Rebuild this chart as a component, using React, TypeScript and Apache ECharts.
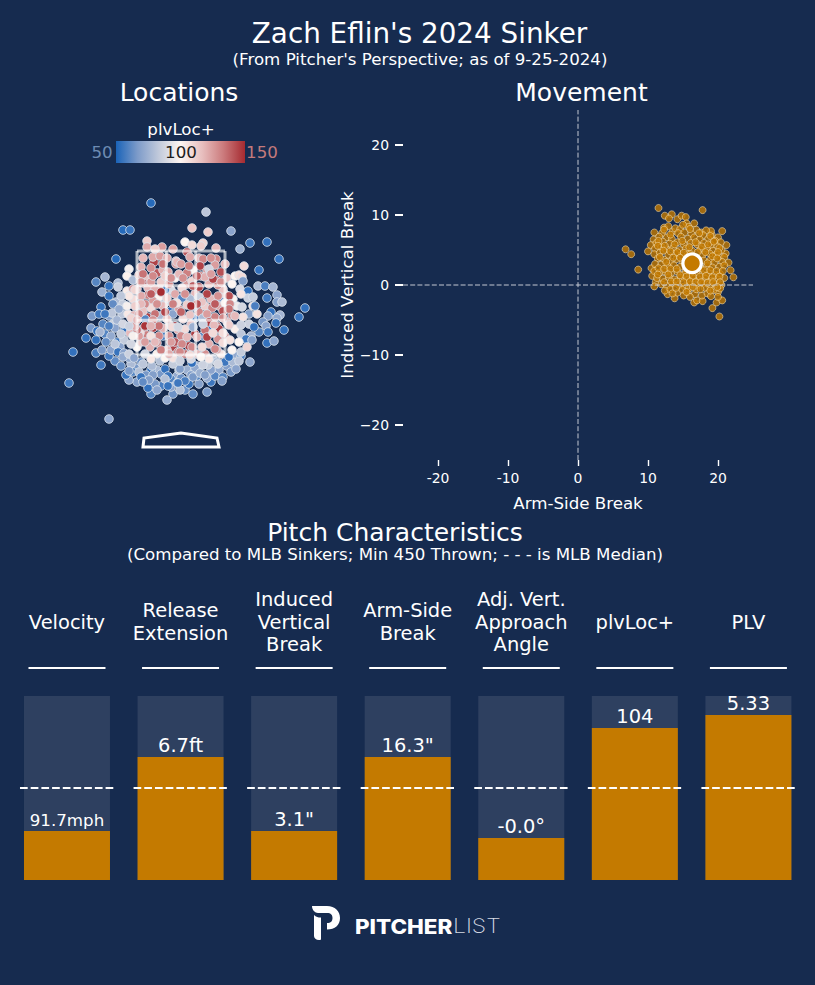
import React, { useEffect, useRef } from "react";
import * as echarts from "echarts";

const FONT = "DejaVu Sans";
const BG = "#162b4f";
const ORANGE = "#c47a00";

// Locations: [horizontal, height, plvLoc+]
const locUpperLeft = [[-30,251,52],[-58,224,52],[-51,224,55],[-34,213,112],[-34,207,122],[-19,207,125],[-65,195,52],[-52,185,97],[-54,178,101],[-85,172,60],[-76,177,76],[-72,168,54],[-63,171,78],[-63,167,86],[-79,162,74],[-72,158,54],[-54,163,103],[-48,174,78],[-48,155,108],[-65,152,78],[-58,150,84],[-80,147,54],[-89,138,66],[-82,140,56],[-72,138,68],[-69,141,82],[-59,140,82],[-53,140,104],[-27,192,145],[-28,197,122],[-21,198,125],[-40,187,120],[-42,179,118],[-24,181,140],[-34,175,115],[-5,193,118],[-5,190,125],[-18,184,120],[-13,182,122],[-6,176,100],[-10,164,90],[-16,164,55],[-38,171,145],[-33,166,118],[-33,159,132],[-22,157,100],[-22,165,122],[-43,149,106],[-28,153,125],[-16,151,84],[-4,152,120],[-30,146,108],[-34,137,145],[-47,139,118],[-21,138,78],[-10,143,54]];
const locUpperRight = [[25,242,82],[11,226,115],[27,222,112],[50,223,70],[4,212,100],[11,209,108],[22,211,110],[20,208,112],[35,206,118],[69,211,56],[86,212,54],[59,205,74],[98,195,54],[78,184,54],[63,188,108],[6,202,140],[9,197,122],[-4,192,118],[22,195,130],[19,188,145],[35,195,130],[44,190,118],[34,189,125],[28,185,88],[40,182,142],[12,184,100],[24,177,120],[6,181,132],[2,176,128],[11,173,110],[35,174,135],[37,169,132],[51,170,100],[58,179,106],[61,177,108],[62,173,68],[59,165,90],[67,163,54],[77,168,78],[84,168,58],[92,167,76],[96,159,70],[86,156,56],[96,152,68],[101,152,78],[67,156,86],[72,157,84],[61,147,88],[72,148,106],[124,146,54],[90,142,54],[99,139,76],[118,137,54],[68,140,68],[76,140,106],[87,138,68],[96,136,72],[26,160,145],[37,158,128],[48,158,142],[44,151,100],[49,150,130],[31,146,130],[42,143,142],[51,139,128],[18,157,86],[9,155,78],[1,156,60],[1,166,108],[18,167,145],[32,175,145],[-4,151,106],[6,149,112],[13,147,78],[21,152,115],[9,139,115],[34,137,132],[22,136,78],[62,137,106]];
const locLowerLeft = [[-84,123,54],[-81,122,76],[-95,116,54],[-85,114,54],[-108,102,54],[-85,101,58],[-79,104,66],[-80,89,56],[-112,71,56],[-72,35,70],[-14,54,72],[-33,66,54],[-55,79,55],[-52,83,66],[-68,130,86],[-57,123,54],[-66,126,70],[-57,114,84],[-61,107,70],[-63,102,55],[-57,101,70],[-58,97,72],[-52,100,86],[-47,96,70],[-38,90,82],[-29,88,78],[-21,93,80],[-16,85,54],[-13,78,56],[-42,82,80],[-35,79,66],[-28,79,68],[-40,77,55],[-32,74,68],[-38,72,62],[-16,75,80],[-10,67,70],[-13,68,55],[-4,71,66],[-1,64,80],[-2,84,80],[-48,128,145],[-28,126,145],[-37,126,142],[-34,119,132],[-22,118,130],[-8,107,145],[-24,111,128],[-44,107,100],[-31,107,120],[-14,104,118],[-41,121,108],[-51,121,118],[-11,129,108],[-3,124,120],[-3,102,132]];
const locLowerRight = [[95,131,54],[85,128,70],[73,127,54],[87,122,56],[103,124,54],[65,115,56],[71,114,68],[86,111,54],[93,113,70],[66,107,110],[58,112,100],[48,97,54],[58,93,82],[69,92,70],[55,85,70],[37,90,88],[30,84,70],[42,77,60],[41,73,68],[-1,85,68],[10,79,68],[12,77,66],[19,81,74],[24,79,68],[27,89,84],[22,89,86],[-1,93,86],[11,91,54],[10,95,88],[28,95,104],[20,97,100],[4,73,58],[-3,71,56],[12,60,62],[26,62,66],[26,117,145],[37,115,128],[38,125,145],[1,110,130],[11,107,130],[21,107,108],[34,105,130],[42,111,108],[49,114,106],[51,104,100],[-1,102,130],[9,99,108],[-9,127,108],[-3,127,88],[12,127,74],[22,130,86],[33,129,118],[48,129,112],[60,129,86],[32,121,108],[6,117,118],[16,117,120],[42,121,108]];
const locFlanks = [[-70,118,72],[-66,110,82],[-60,120,84],[-75,112,62],[-64,134,76],[-58,130,88],[-52,128,86],[-50,110,88],[-48,118,98],[-72,128,58],[-54,148,98],[-62,145,72],[-50,136,110],[-46,148,112],[-44,134,118],[-52,158,104],[-60,158,82],[-46,164,110],[70,118,76],[78,122,60],[60,120,82],[68,130,86],[82,132,66],[74,148,58],[52,92,78],[60,102,84],[52,100,72]];
const locCore = [[-40,158,122],[-36,150,130],[-26,165,120],[-30,172,125],[-38,143,115],[-26,140,135],[-18,148,118],[-14,156,112],[-6,160,122],[-2,145,125],[2,135,108],[-14,135,115],[-18,126,120],[-28,134,128],[-40,112,112],[-30,118,106],[-12,118,128],[-6,112,140],[4,125,108],[10,130,115],[18,142,130],[24,148,112],[30,155,118],[38,148,122],[44,160,108],[52,155,100],[56,148,96],[46,132,115],[54,125,102],[40,100,105],[28,110,120],[16,100,118],[8,108,145],[-16,96,100],[-8,96,106],[-24,100,102],[-36,100,88],[-30,95,104],[-42,118,125],[-20,172,112],[-12,170,130],[-2,180,118],[6,170,125],[14,160,118],[20,178,128],[28,170,120],[42,165,115],[46,176,116],[54,178,100],[18,196,118],[-14,196,122],[-38,196,118],[26,184,125],[-30,186,128],[-26,205,112],[-8,205,125],[-44,165,118],[-16,178,112]];
const locBottom = [[-46,86,66],[-24,84,78],[-8,90,84],[6,84,74],[16,88,76],[32,95,80],[38,84,72],[46,88,68],[-50,90,78],[-66,93,62],[-72,98,56],[-20,68,58],[-26,70,66],[-4,78,72],[18,70,68],[30,72,56],[-52,96,72],[-30,60,60],[4,64,64]];
const locExtraRose = [[-38,180,135],[-30,160,140],[-24,150,128],[-36,128,148],[-22,128,135],[-16,142,145],[-8,150,132],[0,142,138],[4,160,128],[12,168,140],[16,150,142],[26,140,125],[34,150,140],[42,136,130],[36,128,132],[24,124,135],[14,120,145],[0,118,130],[-10,112,125],[-20,104,132],[-30,128,120],[-42,140,130],[-40,150,118],[-28,178,130],[-18,190,135],[-10,176,128],[0,190,125],[8,188,132],[16,178,140],[30,180,125],[40,172,128],[48,145,135],[44,118,125],[36,104,120],[24,100,128],[4,100,135],[-12,100,122],[-26,112,118],[-44,124,135],[-46,128,122],[-36,112,125],[54,138,118],[60,160,105],[-48,165,125],[-40,172,128],[10,148,150],[28,132,148],[-6,128,148],[-20,162,150],[30,196,128]];
const locExtraBlue = [[2,124,54],[-18,118,58],[14,136,56],[30,128,54],[-36,135,60],[22,118,62],[-8,140,70],[40,156,66],[-60,88,62],[-48,82,60],[-40,92,64],[-30,84,55],[-20,80,66],[-10,75,60],[0,76,64],[8,70,55],[16,78,60],[26,76,72],[34,78,60],[44,92,56],[-64,112,56],[-70,104,70],[-76,120,60],[-44,72,68],[-24,64,70],[-8,60,64],[14,86,72],[-52,74,70],[36,92,80],[50,82,66],[60,98,60],[-78,130,60],[-90,126,66],[-68,150,62],[-76,140,56]];

const zoneX = [-44, -14.7, 14.7, 44];
const zoneZ = [99, 133.7, 168.3, 203];
const plateOutline = [[-38,7],[-37,16],[0,21],[36,16],[38,7]];

// Movement: [arm-side break, induced vertical break]
const moveOuter = [[11.5,11.0],[17.8,10.7],[6.8,5.1],[7.6,4.4],[8.6,2.2],[20.2,-4.5],[19.2,-3.3],[19.8,-2.5],[20.6,-2.2],[22.2,1.1],[21.8,2.1],[21.5,3.2],[21.2,5.7],[20.6,7.7],[21.1,4.5],[16.6,8.8],[13.4,10.1],[12.4,9.9],[13.0,9.5],[14.2,9.4],[14.8,9.9],[15.4,9.7],[15.5,8.8],[10.9,7.5],[10.8,6.5],[10.4,5.7],[10.0,4.8],[10.5,2.4],[10.6,1.3],[11.1,0.4],[10.9,-0.2],[12.8,-1.3],[13.8,-1.9],[14.2,-1.1],[15.7,-1.0],[16.6,-2.5],[17.0,-2.2],[17.8,-2.3],[17.7,-1.5],[16.7,-1.3],[18.5,-1.2],[20.0,-1.0],[20,-1.7],[20.5,0],[20.2,4],[20.9,4],[20,6.8],[19.1,7.2],[19,7.7],[17.6,7.5],[12.3,8.2],[12.9,8.4],[13.5,7.6]];
const moveInnerA = [[13.9,8.1],[14.6,8.0],[15.8,8.3],[16.9,7.9],[18.3,7.8],[12.0,7.4],[14.3,7.4],[15.2,7.5],[16.2,7.3],[17.9,7.1],[11.6,6.9],[12.7,6.8],[13.4,6.6],[14.7,6.9],[15.7,6.6],[16.6,6.8],[17.4,6.5],[18.6,6.6],[19.6,6.3],[20.4,6.1],[11.2,6.0],[12.1,6.2],[13.1,5.9],[14.2,6.1],[15.1,5.8],[16.1,6.0],[17.0,5.8],[18.0,6.0],[19.0,5.7],[19.9,5.5],[11.0,5.2],[11.9,5.4],[12.6,5.1],[13.6,5.3],[14.5,5.0],[15.4,5.2],[16.3,4.9],[17.5,5.1],[18.4,5.2],[19.3,4.9],[20.5,5.0],[10.9,4.4],[11.7,4.6],[12.9,4.3],[13.9,4.5],[14.8,4.2],[15.7,4.4],[17.8,4.3],[18.8,4.5],[19.7,4.3],[11.4,3.8],[12.3,3.6],[13.2,3.4],[14.1,3.7],[15.0,3.3],[18.0,3.5],[18.9,3.6],[19.5,3.2],[20.6,3.3],[11.0,3.0],[11.9,2.9],[12.8,2.7],[13.7,2.8],[14.6,2.6],[15.4,2.1],[17.6,2.4],[18.4,2.7],[19.2,2.5],[20.2,2.6],[20.9,2.8],[10.9,2.0],[11.7,1.8],[12.5,1.9],[13.3,1.7],[14.2,1.9],[15.1,1.5],[16.0,1.6],[16.9,1.8],[17.8,1.5],[18.6,1.7],[19.5,1.5],[20.3,1.6],[11.3,1.0],[12.1,0.9],[13.0,1.1],[13.8,0.8],[14.7,1.0],[15.6,0.7],[16.5,0.9],[17.3,0.7],[18.2,0.9],[19.0,0.6],[19.9,0.8],[20.9,1.0],[11.9,0.1],[12.7,-0.1],[13.5,0.2],[14.4,0],[15.2,-0.2],[16.1,0.1],[17.0,-0.1],[17.9,0.2],[18.8,-0.2],[19.6,0.1],[12.4,-0.8],[13.2,-0.6],[14.9,-0.7],[15.8,-0.5],[16.9,-0.6],[18.1,-0.4],[19.4,-0.7],[20.3,-0.5],[13.5,-1.2],[15.1,-1.5],[16.0,-1.7],[19.0,-1.6]];
const moveInnerB = [[12.3,7.9],[13.2,7.2],[15.0,8.6],[16.0,8.0],[17.3,7.4],[18.9,7.0],[11.5,6.3],[12.4,5.6],[13.8,5.8],[14.9,6.3],[15.9,5.4],[16.8,6.1],[17.7,5.5],[18.6,5.8],[19.4,6.2],[20.2,5.3],[11.4,5.6],[12.2,4.9],[13.2,4.8],[14.2,4.7],[15.1,4.6],[16.1,4.4],[17.1,4.7],[18.2,4.7],[19.2,4.1],[20.0,4.7],[11.7,4.0],[12.6,3.3],[13.6,3.9],[14.6,3.9],[18.5,3.1],[19.9,3.8],[11.5,2.4],[12.3,2.3],[13.2,2.3],[14.1,2.3],[18.0,2.1],[18.9,2.1],[19.8,2.0],[20.7,2.0],[11.4,1.5],[12.9,1.5],[14.6,1.4],[15.5,1.2],[16.4,1.3],[17.4,1.2],[18.3,1.3],[19.2,1.1],[20.2,1.2],[12.3,0.4],[13.3,0.5],[14.1,0.5],[15.1,0.4],[16.0,0.5],[16.8,0.4],[17.6,0.4],[18.5,0.3],[19.3,0.4],[20.3,0.4],[14.0,-0.4],[15.5,-1.0],[16.4,-0.3],[17.5,-0.6],[18.9,-0.8],[19.9,-0.3]];
const moveMean = [16.3, 3.1];
const moveTicks = [-20, -10, 0, 10, 20];

// Percentile bars
const barCategories = ["Velocity", "Release\nExtension", "Induced\nVertical\nBreak", "Arm-Side\nBreak", "Adj. Vert.\nApproach\nAngle", "plvLoc+", "PLV"];
const barLabels = ["91.7mph", "6.7ft", "3.1\"", "16.3\"", "-0.0°", "104", "5.33"];
const barPercentiles = [26.6, 66.8, 26.6, 66.8, 22.8, 82.6, 89.7];
const barTrack = [100, 100, 100, 100, 100, 100, 100];
const mlbMedian = [50, 50, 50, 50, 50, 50, 50];

const colorStops = ["#1a63b8", "#7d9bc9", "#c2cadb", "#fdf5f1", "#e8bfbf", "#cb7a7c", "#a52a30"];

const LOGO_D = "M0 1 L15 1 C23 1 28 6 28 13 C28 20 23 24.5 15 24.5 L15 18 C19 18 20.5 16 20.5 13 C20.5 10 19 8 15 8 L6 8 C3 8 0 5 0 1 Z M2 10 C4 12 6 12.6 9 12.6 L9 34 C9 35 8 35 7 35 C4 35 2 33 2 31 Z";
echarts.graphic.registerShape("logo", echarts.graphic.extendPath(LOGO_D, {}));

const txt = (text: string, x: number, y: number, size: number, extra: any = {}) => ({
  type: "text", x, y, z: 50,
  style: { text, fill: "#fff", fontFamily: FONT, fontSize: size, align: "center", verticalAlign: "middle", ...extra },
});

export default function App() {
  const ref = useRef<HTMLDivElement>(null);
  useEffect(() => {
    document.body.style.margin = "0";
    document.body.style.background = BG;
    const chart = echarts.init(ref.current!, null, { renderer: "svg" });
    const locationPoints = [...locUpperLeft, ...locBottom, ...locExtraBlue, ...locLowerLeft, ...locCore, ...locUpperRight, ...locExtraRose, ...locFlanks, ...locLowerRight];
    const movementPoints = [...moveOuter, ...moveInnerA, ...moveInnerB];
    const tickText = { color: "#fff", fontFamily: FONT, fontSize: 13.9 };
    chart.setOption({
      animation: false,
      backgroundColor: BG,
      textStyle: { fontFamily: FONT },
      grid: [
        { left: 26, top: 175, width: 310, height: 279 },
        { left: 403, top: 110, width: 350, height: 350 },
        { left: 10.2, top: 696, width: 795, height: 184 },
      ],
      xAxis: [
        { gridIndex: 0, type: "value", min: -155, max: 155, show: false },
        {
          gridIndex: 1, type: "value", min: -25, max: 25,
          name: "Arm-Side Break", nameLocation: "middle", nameGap: 35,
          nameTextStyle: { color: "#fff", fontFamily: FONT, fontSize: 16.67 },
          axisLine: { show: false, onZero: false }, splitLine: { show: false },
          axisTick: { show: true, length: 6, customValues: moveTicks, lineStyle: { color: "#fff", width: 1.4 } },
          axisLabel: { ...tickText, margin: 11, customValues: moveTicks },
        },
        {
          gridIndex: 2, type: "category", position: "top", data: barCategories,
          axisLine: { show: false }, axisTick: { show: false }, splitLine: { show: false },
          axisLabel: { color: "#fff", fontFamily: FONT, fontSize: 19.44, lineHeight: 22.6, margin: 74, verticalAlign: "middle", interval: 0 },
        },
      ],
      yAxis: [
        { gridIndex: 0, type: "value", min: 0, max: 279, show: false },
        {
          gridIndex: 1, type: "value", min: -25, max: 25,
          name: "Induced Vertical Break", nameLocation: "middle", nameGap: 45,
          nameTextStyle: { color: "#fff", fontFamily: FONT, fontSize: 16.67 },
          axisLine: { show: false, onZero: false }, splitLine: { show: false },
          axisTick: { show: true, length: 8, customValues: moveTicks, lineStyle: { color: "#fff", width: 2 } },
          axisLabel: { ...tickText, margin: 14, customValues: moveTicks, formatter: (v: number) => String(v).replace("-", "\u2212") },
        },
        { gridIndex: 2, type: "value", min: 0, max: 100, show: false },
      ],
      visualMap: { show: false, seriesIndex: 0, dimension: 2, min: 50, max: 150, inRange: { color: colorStops } },
      series: [
        {
          type: "scatter", xAxisIndex: 0, yAxisIndex: 0, data: locationPoints, symbolSize: 8.6, z: 2, silent: true,
          itemStyle: { borderColor: "#dde4ee", borderWidth: 0.8, opacity: 1 },
        },
        {
          type: "custom", xAxisIndex: 0, yAxisIndex: 0, z: 3, silent: true, data: [0],
          renderItem: (_: any, api: any) => {
            const line = (a: number[], b: number[]) => {
              const p = api.coord(a), q = api.coord(b);
              return { type: "line", shape: { x1: p[0], y1: p[1], x2: q[0], y2: q[1] }, style: { stroke: "#ffffff", opacity: 0.65, lineWidth: 3 } };
            };
            const zx0 = zoneX[0], zx3 = zoneX[3], zz0 = zoneZ[0], zz3 = zoneZ[3];
            return {
              type: "group",
              children: [
                ...zoneX.map((x) => line([x, zz0], [x, zz3])),
                ...zoneZ.map((z) => line([zx0, z], [zx3, z])),
                { type: "polygon", shape: { points: plateOutline.map((p) => api.coord(p)) }, style: { stroke: "#fff", fill: "none", lineWidth: 3 } },
              ],
            };
          },
        },
        { type: "scatter", xAxisIndex: 1, yAxisIndex: 1, data: movementPoints, symbolSize: 7, z: 2, silent: true, itemStyle: { color: ORANGE, borderColor: "#f6e2b8", borderWidth: 0.7 } },
        { type: "line", xAxisIndex: 1, yAxisIndex: 1, data: [[-25, 0], [25, 0]], symbol: "none", z: 3, silent: true, lineStyle: { color: "#c4c9d3", width: 1, type: [5, 2.2] } },
        { type: "line", xAxisIndex: 1, yAxisIndex: 1, data: [[0, -25], [0, 25]], symbol: "none", z: 3, silent: true, lineStyle: { color: "#c4c9d3", width: 1, type: [5, 2.2] } },
        { type: "scatter", xAxisIndex: 1, yAxisIndex: 1, data: [moveMean], symbolSize: 18.5, z: 4, silent: true, itemStyle: { color: ORANGE, borderColor: "#ffffff", borderWidth: 3.3, opacity: 1 } },
        { type: "bar", xAxisIndex: 2, yAxisIndex: 2, data: barTrack, barWidth: 86, barGap: "-100%", z: 2, silent: true, itemStyle: { color: "#2e4060" } },
        {
          type: "bar", xAxisIndex: 2, yAxisIndex: 2, data: barPercentiles, barWidth: 86, barGap: "-100%", z: 3, silent: true,
          itemStyle: { color: ORANGE },
          label: {
            show: true, position: "top", distance: 2, color: "#fff", fontFamily: FONT, fontSize: 19.44,
            formatter: (p: any) => barLabels[p.dataIndex],
          },
          labelLayout: (p: any) => (p.dataIndex === 0 ? { fontSize: 16.67 } : {}),
        },
        {
          type: "custom", xAxisIndex: 2, yAxisIndex: 2, data: mlbMedian, z: 5, silent: true,
          renderItem: (params: any, api: any) => {
            const p = api.coord([params.dataIndex, api.value(0)]);
            const top = api.coord([params.dataIndex, 100]);
            return {
              type: "group",
              children: [
                { type: "line", shape: { x1: p[0] - 47, y1: p[1], x2: p[0] + 48, y2: p[1] }, style: { stroke: "#fff", lineWidth: 2, lineDash: [7.7, 3] } },
                { type: "line", shape: { x1: top[0] - 38.5, y1: top[1] - 28, x2: top[0] + 38.5, y2: top[1] - 28 }, style: { stroke: "#fff", lineWidth: 2 } },
              ],
            };
          },
          encode: { y: 0 },
        },
      ],
      graphic: [
        txt("Zach Eflin's 2024 Sinker", 419.5, 33, 27.8),
        txt("(From Pitcher's Perspective; as of 9-25-2024)", 420, 59.5, 16.67),
        txt("Locations", 179, 92.5, 25),
        txt("Movement", 581.5, 92.5, 25),
        txt("plvLoc+", 181, 129, 16.67),
        {
          type: "rect", z: 49, shape: { x: 116, y: 141, width: 129, height: 22 },
          style: { fill: new echarts.graphic.LinearGradient(0, 0, 1, 0, colorStops.map((color, i) => ({ offset: i / (colorStops.length - 1), color }))) },
        },
        txt("50", 102, 152.5, 16.67, { fill: "#6d8bb3" }),
        txt("100", 181, 152.5, 16.67, { fill: "#1c1c1c" }),
        txt("150", 262, 152.5, 16.67, { fill: "#c47a7c" }),
        txt("Pitch Characteristics", 395, 532.5, 25),
        txt("(Compared to MLB Sinkers; Min 450 Thrown; - - - is MLB Median)", 395, 554, 16.67),
        { type: "logo", x: 312, y: 905, scaleX: 1, scaleY: 1, z: 50, style: { fill: "#fff" } },
        { ...txt("PITCHER", 355, 926, 20, { align: "left", fontFamily: "Inter", fontWeight: 800 }), scaleX: 1.12 },
        { ...txt("LIST", 453, 926, 20, { align: "left", fontFamily: "Inter", fontWeight: 200, fill: "#d5dae3" }), scaleX: 1.15 },
      ],
    });
    return () => chart.dispose();
  }, []);
  return <div ref={ref} style={{ position: "absolute", left: 0, top: 0, width: 815, height: 985 }} />;
}
